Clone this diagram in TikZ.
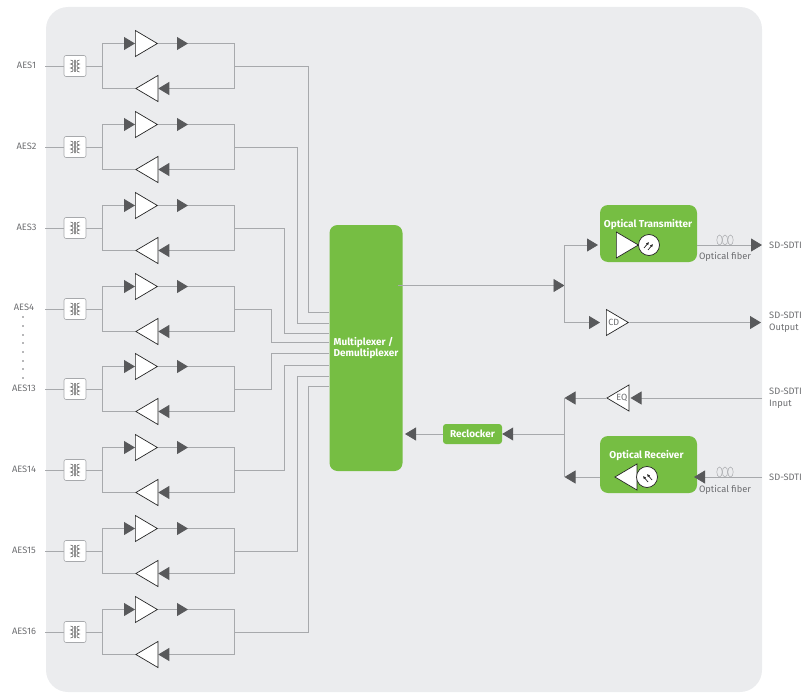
\documentclass[tikz,border=0pt]{standalone}
\usepackage{fontspec}
\setmainfont{Fira Sans}
\usetikzlibrary{arrows.meta,shapes.geometric}
\definecolor{panelgray}{HTML}{EBECEE}
\definecolor{wiregray}{HTML}{A7A9AC}
\definecolor{tipgray}{HTML}{58595B}
\definecolor{textgray}{HTML}{6D6E71}
\definecolor{boxgreen}{HTML}{76BE43}
\tikzset{
  wire/.style={draw=wiregray,line width=.8pt},
  tipwire/.style={wire,-{Triangle[length=11pt,width=13pt,color=tipgray]}},
  amp/.style={isosceles triangle,isosceles triangle stretches,draw=black!85,fill=white,line width=.7pt,anchor=west,
    minimum width=26pt,minimum height=22pt,inner sep=0pt,font=\fontsize{9}{10}\selectfont,text=textgray},
  ampright/.style={amp},
  ampleft/.style={amp,shape border rotate=180},
  greenbox/.style={draw=none,fill=boxgreen,rounded corners=8pt,inner sep=0pt,text=white,font=\fontsize{10}{11.5}\selectfont\bfseries},
  greylabel/.style={text=textgray,inner sep=0pt,font=\fontsize{9.3}{12}\selectfont},
  boldlabel/.style={text=white,inner sep=0pt,font=\fontsize{10}{11}\selectfont\bfseries},
  xfmr/.style={draw=wiregray,fill=white,rounded corners=2pt,line width=.6pt,minimum width=22pt,minimum height=21pt,inner sep=0pt,
    path picture={
      \draw[shift={(path picture bounding box.center)},sharp corners,black!65,line width=.55pt]
        (-.7,-6) -- (-.7,6) (.7,-6) -- (.7,6)
        (-4.5,-6) .. controls (-1,-6) and (-1,-2) .. (-4.5,-2) .. controls (-1,-2) and (-1,2) .. (-4.5,2) .. controls (-1,2) and (-1,6) .. (-4.5,6)
        (4.5,-6) .. controls (1,-6) and (1,-2) .. (4.5,-2) .. controls (1,-2) and (1,2) .. (4.5,2) .. controls (1,2) and (1,6) .. (4.5,6);
    }},
  optotip/.style={shift={(path picture bounding box.center)},black!85,line width=.7pt,-{Latex[length=3pt,width=3pt]}},
  opto/.style={circle,draw=black!85,fill=white,line width=.7pt,minimum size=21pt,inner sep=0pt},
  optotx/.style={opto,path picture={
      \draw[optotip] (-5,3) -- (0,-3);
      \draw[optotip] (-1,5) -- (4,-1);
    }},
  optorx/.style={opto,path picture={
      \draw[optotip] (5,3) -- (0,-3);
      \draw[optotip] (1,5) -- (-4,-1);
    }},
  coil/.style={draw=wiregray,line width=.5pt},
  dotmark/.style={circle,fill=textgray,minimum size=1.6pt,inner sep=0pt}
}
\begin{document}
\begin{tikzpicture}[x=1pt,y=-1pt]
  \useasboundingbox (0,0) rectangle (801,693);
  \fill[panelgray] (46,7) [rounded corners=22pt] rectangle (762,692);
  \node[greenbox,minimum width=73pt,minimum height=246pt,align=left] (mux) at (366,348) {Multiplexer /\\Demultiplexer};
  % row 1
  \node[greylabel] (l1) at (26.5,65.5) {AES1};
  \coordinate (s1) at (45,66);
  \node[xfmr] (x1) at (75,66) {};
  \coordinate (a1) at (102.5,66);
  \coordinate (b1) at (234.5,66);
  \node[ampright] (u1) at (135,43.5) {};
  \node[ampleft] (d1) at (135,88.5) {};
  \coordinate (p1) at (188,43.5);
  \coordinate (m1) at (308,312);
  \draw[wire] (s1) -- (x1);
  \draw[wire] (x1) -- (a1);
  \draw[tipwire] (a1) |- (u1.west);
  \draw[wire] (a1) |- (d1.west);
  \draw[tipwire] (u1.east) -- (p1);
  \draw[wire] (p1) -| (b1);
  \draw[tipwire] (b1) |- (d1.east);
  \draw[wire] (b1) -| (m1) -- (m1 -| mux.west);
  % row 2
  \node[greylabel] (l2) at (26.5,146.5) {AES2};
  \coordinate (s2) at (45,147);
  \node[xfmr] (x2) at (75,147) {};
  \coordinate (a2) at (102.5,147);
  \coordinate (b2) at (234.5,147);
  \node[ampright] (u2) at (135,124.5) {};
  \node[ampleft] (d2) at (135,169.5) {};
  \coordinate (p2) at (188,124.5);
  \coordinate (m2) at (297,323);
  \draw[wire] (s2) -- (x2);
  \draw[wire] (x2) -- (a2);
  \draw[tipwire] (a2) |- (u2.west);
  \draw[wire] (a2) |- (d2.west);
  \draw[tipwire] (u2.east) -- (p2);
  \draw[wire] (p2) -| (b2);
  \draw[tipwire] (b2) |- (d2.east);
  \draw[wire] (b2) -| (m2) -- (m2 -| mux.west);
  % row 3
  \node[greylabel] (l3) at (26.5,227.5) {AES3};
  \coordinate (s3) at (45,228);
  \node[xfmr] (x3) at (75,228) {};
  \coordinate (a3) at (102.5,228);
  \coordinate (b3) at (234.5,228);
  \node[ampright] (u3) at (135,205.5) {};
  \node[ampleft] (d3) at (135,250.5) {};
  \coordinate (p3) at (188,205.5);
  \coordinate (m3) at (284,333);
  \draw[wire] (s3) -- (x3);
  \draw[wire] (x3) -- (a3);
  \draw[tipwire] (a3) |- (u3.west);
  \draw[wire] (a3) |- (d3.west);
  \draw[tipwire] (u3.east) -- (p3);
  \draw[wire] (p3) -| (b3);
  \draw[tipwire] (b3) |- (d3.east);
  \draw[wire] (b3) -| (m3) -- (m3 -| mux.west);
  % row 4
  \node[greylabel] (l4) at (24,307.5) {AES4};
  \coordinate (s4) at (45,309);
  \node[xfmr] (x4) at (75,309) {};
  \coordinate (a4) at (102.5,309);
  \coordinate (b4) at (234.5,309);
  \node[ampright] (u4) at (135,286.5) {};
  \node[ampleft] (d4) at (135,331.5) {};
  \coordinate (p4) at (188,286.5);
  \coordinate (m4) at (271,342);
  \draw[wire] (s4) -- (x4);
  \draw[wire] (x4) -- (a4);
  \draw[tipwire] (a4) |- (u4.west);
  \draw[wire] (a4) |- (d4.west);
  \draw[tipwire] (u4.east) -- (p4);
  \draw[wire] (p4) -| (b4);
  \draw[tipwire] (b4) |- (d4.east);
  \draw[wire] (b4) -| (m4) -- (m4 -| mux.west);
  % dots between AES4 and AES13
  \node[dotmark] (v1) at (23,317) {};
  \node[dotmark] (v2) at (23,326) {};
  \node[dotmark] (v3) at (23,335) {};
  \node[dotmark] (v4) at (23,343) {};
  \node[dotmark] (v5) at (23,352) {};
  \node[dotmark] (v6) at (23,361) {};
  \node[dotmark] (v7) at (23,369) {};
  \node[dotmark] (v8) at (23,378) {};
  % row 13
  \node[greylabel] (l5) at (24,388.5) {AES13};
  \coordinate (s5) at (45,389);
  \node[xfmr] (x5) at (75,389) {};
  \coordinate (a5) at (102.5,389);
  \coordinate (b5) at (234.5,389);
  \node[ampright] (u5) at (135,366.5) {};
  \node[ampleft] (d5) at (135,411.5) {};
  \coordinate (p5) at (188,366.5);
  \coordinate (m5) at (271,353);
  \draw[wire] (s5) -- (x5);
  \draw[wire] (x5) -- (a5);
  \draw[tipwire] (a5) |- (u5.west);
  \draw[wire] (a5) |- (d5.west);
  \draw[tipwire] (u5.east) -- (p5);
  \draw[wire] (p5) -| (b5);
  \draw[tipwire] (b5) |- (d5.east);
  \draw[wire] (b5) -| (m5) -- (m5 -| mux.west);
  % row 14
  \node[greylabel] (l6) at (24,469.5) {AES14};
  \coordinate (s6) at (45,470);
  \node[xfmr] (x6) at (75,470) {};
  \coordinate (a6) at (102.5,470);
  \coordinate (b6) at (234.5,470);
  \node[ampright] (u6) at (135,447.5) {};
  \node[ampleft] (d6) at (135,492.5) {};
  \coordinate (p6) at (188,447.5);
  \coordinate (m6) at (284,365);
  \draw[wire] (s6) -- (x6);
  \draw[wire] (x6) -- (a6);
  \draw[tipwire] (a6) |- (u6.west);
  \draw[wire] (a6) |- (d6.west);
  \draw[tipwire] (u6.east) -- (p6);
  \draw[wire] (p6) -| (b6);
  \draw[tipwire] (b6) |- (d6.east);
  \draw[wire] (b6) -| (m6) -- (m6 -| mux.west);
  % row 15
  \node[greylabel] (l7) at (24,550.5) {AES15};
  \coordinate (s7) at (45,551);
  \node[xfmr] (x7) at (75,551) {};
  \coordinate (a7) at (102.5,551);
  \coordinate (b7) at (234.5,551);
  \node[ampright] (u7) at (135,528.5) {};
  \node[ampleft] (d7) at (135,573.5) {};
  \coordinate (p7) at (188,528.5);
  \coordinate (m7) at (297,376);
  \draw[wire] (s7) -- (x7);
  \draw[wire] (x7) -- (a7);
  \draw[tipwire] (a7) |- (u7.west);
  \draw[wire] (a7) |- (d7.west);
  \draw[tipwire] (u7.east) -- (p7);
  \draw[wire] (p7) -| (b7);
  \draw[tipwire] (b7) |- (d7.east);
  \draw[wire] (b7) -| (m7) -- (m7 -| mux.west);
  % row 16
  \node[greylabel] (l8) at (24,631.5) {AES16};
  \coordinate (s8) at (45,632);
  \node[xfmr] (x8) at (75,632) {};
  \coordinate (a8) at (102.5,632);
  \coordinate (b8) at (234.5,632);
  \node[ampright] (u8) at (135,609.5) {};
  \node[ampleft] (d8) at (135,654.5) {};
  \coordinate (p8) at (188,609.5);
  \coordinate (m8) at (308,386);
  \draw[wire] (s8) -- (x8);
  \draw[wire] (x8) -- (a8);
  \draw[tipwire] (a8) |- (u8.west);
  \draw[wire] (a8) |- (d8.west);
  \draw[tipwire] (u8.east) -- (p8);
  \draw[wire] (p8) -| (b8);
  \draw[tipwire] (b8) |- (d8.east);
  \draw[wire] (b8) -| (m8) -- (m8 -| mux.west);
  % transmit side
  \coordinate (o1) at (398,285.5);
  \coordinate (o2) at (564.5,285.5);
  \node[greenbox] (tx) at (648.5,233.5) [minimum width=97pt,minimum height=57pt] {};
  \node[boldlabel] (txlabel) at (648,225) {Optical Transmitter};
  \node[ampright] (txamp) at (616,245) {};
  \node[optotx] (txopto) at (649,245) {};
  \node[ampright] (cd) at (606,322.5) {CD};
  \coordinate (txin) at (598,245);
  \coordinate (cdin) at (600,322.5);
  \coordinate (txout) at (762,245);
  \coordinate (cdout) at (761,322.5);
  \draw[tipwire] (o1) -- (o2);
  \draw[tipwire] (o2) |- (txin);
  \draw[tipwire] (o2) |- (cdin);
  \draw[tipwire] (tx.east |- txout) -- (txout);
  \draw[tipwire] (cd.east) -- (cdout);
  \draw[coil] (719.5,240) ellipse (2.7 and 5);
  \draw[coil] (725,240) ellipse (2.7 and 5);
  \draw[coil] (730.5,240) ellipse (2.7 and 5);
  \node[greylabel] (txfiber) at (725,257) {Optical fiber};
  \node[greylabel,anchor=west] (txname) at (769,245) {SD-SDTI};
  \node[greylabel,anchor=west,align=left] (cdname) at (769,322.5) {SD-SDTI\\Output};
  % receive side
  \node[greenbox] (rx) at (648.5,464.5) [minimum width=97pt,minimum height=57pt] {};
  \node[boldlabel] (rxlabel) at (646.5,456) {Optical Receiver};
  \node[ampleft] (rxamp) at (614,477) {};
  \node[optorx] (rxopto) at (647,477) {};
  \node[ampleft] (eq) at (606,398) {EQ};
  \node[greenbox,rounded corners=3pt,minimum width=59pt,minimum height=20pt] (reclocker) at (472.5,434) {Reclocker};
  \coordinate (i1) at (564.5,398);
  \coordinate (i2) at (564.5,477);
  \coordinate (i3) at (564.5,434);
  \coordinate (eqin) at (762,398);
  \coordinate (eqend) at (630.5,398);
  \coordinate (rxin) at (762,477);
  \coordinate (rxend) at (694,477);
  \coordinate (muxin) at (405,434);
  \draw[tipwire] (eqin) -- (eqend);
  \draw[tipwire] (eq.west) -- (i1);
  \draw[tipwire] (rxin) -- (rxend);
  \draw[tipwire] (rx.west |- i2) -- (i2);
  \draw[wire] (i1) -- (i2);
  \draw[tipwire] (i3) -- (reclocker.east);
  \draw[tipwire] (reclocker.west) -- (muxin);
  \draw[coil] (719.5,472) ellipse (2.7 and 5);
  \draw[coil] (725,472) ellipse (2.7 and 5);
  \draw[coil] (730.5,472) ellipse (2.7 and 5);
  \node[greylabel] (rxfiber) at (725,490) {Optical fiber};
  \node[greylabel,anchor=west,align=left] (eqname) at (769,398) {SD-SDTI\\Input};
  \node[greylabel,anchor=west] (rxname) at (769,477) {SD-SDTI};
\end{tikzpicture}
\end{document}
